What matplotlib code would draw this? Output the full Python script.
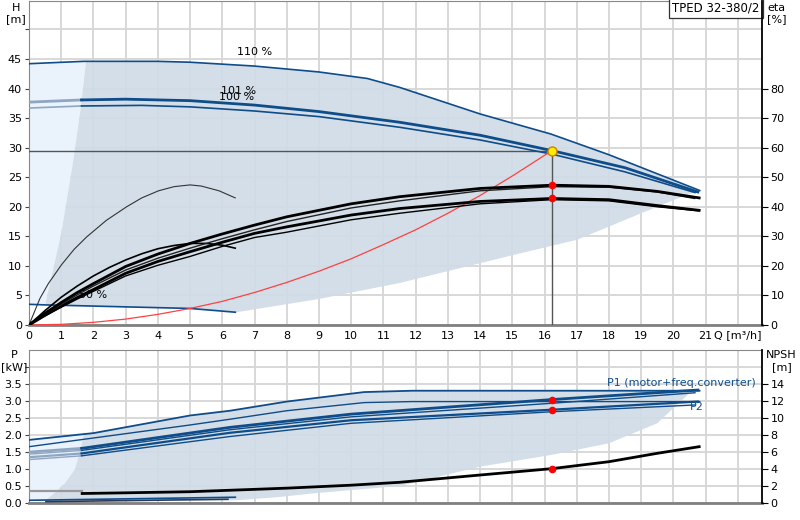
import numpy as np
import matplotlib
matplotlib.use("Agg")
import matplotlib.pyplot as plt

# ---------------- data ----------------
# head curves H [m] vs Q [m3/h]
q_110 = [0, 1.7, 4.0, 5.0, 7.0, 9.0, 10.5, 11.5, 14.0, 16.2, 18.0, 20.84]
h_110 = [44.2, 44.6, 44.6, 44.45, 43.8, 42.8, 41.7, 40.2, 35.7, 32.3, 28.8, 22.7]
q_101 = [0, 1.63, 3.0, 5.0, 7.0, 9.0, 11.5, 14.0, 16.23, 18.5, 20.76]
h_101 = [37.7, 38.07, 38.2, 37.95, 37.2, 36.1, 34.3, 32.1, 29.5, 26.6, 22.5]
q_100 = [0, 1.63, 3.5, 5.0, 7.0, 9.0, 11.5, 14.0, 16.23, 18.5, 20.67]
h_100 = [36.7, 37.05, 37.15, 36.9, 36.2, 35.25, 33.45, 31.3, 28.9, 25.9, 22.4]
q_50 = [0, 0.5, 5.0, 6.43]
h_50 = [3.5, 3.4, 2.8, 2.15]

# system curve
q_sys = [0, 1, 2, 3, 4, 5, 6, 7, 8, 9, 10, 11, 12, 13, 14, 15, 16.23]
h_sys = [0, 0.11, 0.45, 1.0, 1.8, 2.8, 4.0, 5.5, 7.2, 9.1, 11.2, 13.6, 16.1, 18.9, 21.9, 25.2, 29.5]

# operating point
q_op, h_op = 16.23, 29.5
eta_op = [47.3, 42.8]
p_op = [3.05, 2.75]
npsh_op = 4.05

# efficiency curves eta [%]
q_eta = [0, 0.5, 1, 1.5, 2, 3, 4, 5, 6, 7, 8, 10, 11.5, 14, 16.23, 18, 19.5, 20.8]
eta_101 = [0, 4.0, 7.6, 11.0, 14.0, 19.8, 24.0, 27.6, 30.8, 33.8, 36.6, 41.0, 43.4, 46.2, 47.3, 46.9, 45.2, 43.0]
eta_100 = [0, 3.7, 7.0, 10.2, 13.2, 18.6, 22.6, 26.0, 29.2, 32.2, 35.0, 39.6, 42.0, 45.4, 46.8, 46.6, 45.0, 42.8]
eta_p2_101 = [0, 3.3, 6.4, 9.3, 12.0, 17.5, 21.5, 24.8, 28.0, 31.0, 33.2, 37.2, 39.4, 41.8, 42.8, 42.4, 40.4, 38.8]
eta_p2_100 = [0, 3.1, 6.0, 8.8, 11.4, 16.6, 20.2, 23.2, 26.6, 29.6, 31.4, 35.6, 37.8, 41.0, 42.4, 42.0, 40.0, 38.6]
q_eta50 = [0, 0.34, 0.6, 1.01, 1.4, 1.79, 2.4, 3.03, 3.5, 4.02, 4.5, 5.0, 5.35, 5.9, 6.4]
eta_50_hi = [0, 9.0, 14.0, 20.4, 25.6, 29.8, 35.4, 40.0, 43.0, 45.4, 46.8, 47.4, 47.0, 45.4, 43.0]
q_eta50b = [0, 0.5, 1, 1.5, 2, 2.5, 3, 3.5, 4, 4.5, 5, 5.5, 6.0, 6.4]
eta_50_lo = [0, 4.9, 9.4, 13.2, 16.6, 19.5, 22.0, 24.1, 25.8, 26.9, 27.6, 27.6, 27.0, 26.0]

# operating range (shaded) in head chart
q_rng_left = [0.5, 1.0, 1.35, 1.6, 1.77]
h_rng_left = [3.4, 15.5, 27.0, 36.5, 44.6]
q_rng_low = [20.4, 19.0, 17.0, 15.0, 11.5, 9.0, 6.43]
h_rng_low = [22.0, 18.9, 14.4, 11.8, 7.1, 4.4, 2.15]

# power curves P [kW]
q_p1_110 = [0, 2, 5, 6.24, 8, 10.4, 11.9, 20.84]
p1_110 = [1.86, 2.06, 2.58, 2.72, 2.99, 3.27, 3.31, 3.31]
q_p2_110 = [0, 5, 6.24, 8, 10.4, 11.9, 20.84]
p2_110 = [1.66, 2.30, 2.47, 2.72, 2.96, 2.99, 2.99]
q_p1_101 = [0, 1.63, 6.24, 10, 16.23, 20.76]
p1_101 = [1.50, 1.61, 2.23, 2.62, 3.05, 3.33]
q_p1_100 = [0, 1.63, 6.24, 10, 16.23, 20.67]
p1_100 = [1.44, 1.55, 2.16, 2.54, 2.94, 3.25]
q_p2_101 = [0, 1.63, 6.24, 10, 16.23, 20.76]
p2_101 = [1.35, 1.46, 2.07, 2.44, 2.75, 2.99]
q_p2_100 = [0, 1.63, 6.24, 10, 16.23, 20.67]
p2_100 = [1.28, 1.39, 1.96, 2.35, 2.69, 2.89]
q_p_50 = [0, 6.43]
p1_50 = [0.08, 0.17]
q_p2_50 = [0.5, 6.2]
p2_50 = [0.04, 0.11]

# NPSH [m]
q_npsh_start = [0, 1.65]
npsh_start = [1.4, 1.4]
q_npsh = [1.65, 3, 5, 8, 10, 11.5, 14, 16.23, 18, 19.5, 20.8]
npsh = [1.12, 1.2, 1.33, 1.75, 2.1, 2.44, 3.3, 4.05, 4.87, 5.86, 6.64]

# operating range (shaded) in power chart
q_prng_left = [0.5, 0.8, 1.12, 1.43, 1.6, 1.72]
p_prng_left = [0.07, 0.3, 0.59, 1.0, 1.6, 2.07]
q_prng_low = [20.6, 20.5, 19.5, 18.0, 16.23, 14.0, 11.5, 9.0, 7.7, 6.43]
p_prng_low = [3.3, 3.24, 2.35, 1.76, 1.42, 1.07, 0.5, 0.3, 0.17, 0.08]

eta_ticks = list(range(0, 90, 10))
p_ticks = [0.0, 0.5, 1.0, 1.5, 2.0, 2.5, 3.0, 3.5]
npsh_ticks = list(range(0, 16, 2))

# ---------------- style ----------------
BLUE = "#0f4c8a"
PALE = "#8ea6c2"
SHADE = "#d0dce7"
LIGHT = "#eaf2fb"
GRID = "#d6d6d6"
XMAX = 22.75


def line(ax, q, y, color=BLUE, lw=1.2, split=None, z=4):
    q = np.asarray(q)
    y = np.asarray(y)
    if split is None:
        ax.plot(q, y, color=color, lw=lw, zorder=z, solid_capstyle="butt")
        return
    i = int(np.argmax(q >= split))
    ax.plot(q[:i + 1], y[:i + 1], color=PALE, lw=lw, zorder=z)
    ax.plot(q[i:], y[i:], color=color, lw=lw, zorder=z)


def base(ax, ymax, yticks):
    ax.set_xlim(0, XMAX)
    ax.set_ylim(0, ymax)
    ax.set_xticks(range(0, 23))
    ax.set_yticks(yticks)
    ax.set_axisbelow(True)
    ax.grid(True, color=GRID, lw=1.3)
    for s in ["left", "top"]:
        ax.spines[s].set_color("#888888")
    ax.spines["bottom"].set_color("#808080")
    ax.spines["bottom"].set_linewidth(2)
    ax.spines["right"].set_visible(False)
    ax.tick_params(axis="both", labelsize=8, length=3, color="#444444", pad=2)


fig = plt.figure(figsize=(8, 5.2), dpi=100)
ax = fig.add_axes([0.03625, 0.375, 0.91625, 0.623])
axp = fig.add_axes([0.03625, 0.0327, 0.91625, 0.2942])

# ---------------- head chart ----------------
base(ax, 54.8, list(range(0, 55, 5)))
ax.set_yticklabels([str(t) if t < 50 else "" for t in range(0, 55, 5)])
ax.set_xticklabels([str(i) for i in range(22)] + ["Q [m³/h]"])
ax.tick_params(axis="x", length=0, pad=4)

light_q = [0] + [1.7] + q_rng_left[::-1] + [0]
light_h = [44.2] + [44.6] + h_rng_left[::-1] + [3.5]
ax.fill(light_q, light_h, color=LIGHT, lw=0, zorder=1)
top_q = [q for q in q_110 if q >= 1.7]
top_h = [h for q, h in zip(q_110, h_110) if q >= 1.7]
dark_q = top_q + q_rng_low + q_50[::-1][:-1] + q_rng_left
dark_h = top_h + h_rng_low + h_50[::-1][:-1] + h_rng_left
ax.fill(dark_q, dark_h, color=SHADE, lw=0, zorder=1, alpha=0.92)

line(ax, q_110, h_110, lw=1.2)
line(ax, q_101, h_101, lw=2.0, split=1.6)
line(ax, q_100, h_100, lw=1.2, split=1.6)
line(ax, q_50, h_50, lw=1.2)
ax.plot(q_sys, h_sys, color="#ff4040", lw=0.9, zorder=5)
ax.plot([0, q_op], [h_op, h_op], color="#555555", lw=1.0, zorder=3)
ax.plot([q_op, q_op], [h_op, 0], color="#555555", lw=1.0, zorder=3)

ax.text(7.0, 46.2, "110 %", fontsize=8, ha="center", va="center", zorder=6)
ax.text(6.5, 39.5, "101 %", fontsize=8, ha="center", va="center", zorder=6)
ax.text(6.45, 38.6, "100 %", fontsize=8, ha="center", va="center", zorder=6)
ax.text(2.0, 5.0, "50 %", fontsize=8, ha="center", va="center", zorder=6)

ax.text(0.997, 0.998, "TPED 32-380/2", transform=ax.transAxes, ha="right", va="top",
        fontsize=8.5, zorder=10,
        bbox=dict(boxstyle="square,pad=0.3", fc="white", ec="#333333", lw=0.9))

ax_eta = ax.twinx()
ax_eta.set_ylim(0, 109.6)
ax_eta.set_yticks(eta_ticks)
for s in ["left", "top", "bottom"]:
    ax_eta.spines[s].set_visible(False)
ax_eta.spines["right"].set_color("black")
ax_eta.spines["right"].set_linewidth(1.3)
ax_eta.tick_params(axis="y", labelsize=8, length=4, pad=2)

ax_eta.plot(q_eta50, eta_50_hi, color="#333333", lw=0.8, zorder=4)
ax_eta.plot(q_eta50b, eta_50_lo, color="black", lw=1.2, zorder=4)
ax_eta.plot(q_eta, eta_p2_100, color="black", lw=1.0, zorder=4)
ax_eta.plot(q_eta, eta_p2_101, color="black", lw=2.0, zorder=4)
ax_eta.plot(q_eta[:-1] + [20.66], eta_100, color="#222222", lw=1.0, zorder=4)
ax_eta.plot(q_eta, eta_101, color="black", lw=2.0, zorder=4)
ax_eta.scatter([q_op, q_op], eta_op, s=30, color="red", zorder=7, lw=0)
ax_eta.scatter([q_op], [h_op * 2], s=42, color="#ffee00", edgecolor="#d08000", lw=1.0, zorder=8)

# ---------------- power chart ----------------
base(axp, 4.51, [0.0, 0.5, 1.0, 1.5, 2.0, 2.5, 3.0, 3.5, 4.0])
axp.set_yticklabels([f"{t:.1f}" for t in p_ticks] + [""])
axp.set_xticklabels([])
axp.tick_params(axis="x", length=0)

plight_q = [0, 1.72] + q_prng_left[::-1] + [0]
plight_p = [1.86, 2.07] + p_prng_left[::-1] + [0.08]
axp.fill(plight_q, plight_p, color=LIGHT, lw=0, zorder=1)
ptop_q = [q for q in q_p1_110 if q >= 1.72]
ptop_p = [p for q, p in zip(q_p1_110, p1_110) if q >= 1.72]
pdark_q = [1.72] + ptop_q + q_prng_low + q_prng_left
pdark_p = [2.07] + ptop_p + p_prng_low + p_prng_left
axp.fill(pdark_q, pdark_p, color=SHADE, lw=0, zorder=1, alpha=0.92)

line(axp, q_p1_110, p1_110, lw=1.3)
line(axp, q_p2_110, p2_110, lw=1.0)
line(axp, q_p1_101, p1_101, lw=2.0, split=1.6)
line(axp, q_p1_100, p1_100, lw=1.0, split=1.6)
line(axp, q_p2_101, p2_101, lw=1.6, split=1.6)
line(axp, q_p2_100, p2_100, lw=1.0, split=1.6)
line(axp, q_p_50, p1_50, lw=1.2)
line(axp, q_p2_50, p2_50, color="#2a3a5a", lw=1.2)
axp.scatter([q_op, q_op], p_op, s=30, color="red", zorder=7, lw=0)

axp.text(22.55, 3.55, "P1 (motor+freq.converter)", fontsize=8, color=BLUE,
         ha="right", va="center", zorder=6)
axp.text(20.95, 2.84, "P2", fontsize=8, color=BLUE, ha="right", va="center", zorder=6)

ax_n = axp.twinx()
ax_n.set_ylim(0, 18.04)
ax_n.set_yticks(npsh_ticks)
for s in ["left", "top", "bottom"]:
    ax_n.spines[s].set_visible(False)
ax_n.spines["right"].set_color("black")
ax_n.spines["right"].set_linewidth(1.3)
ax_n.tick_params(axis="y", labelsize=8, length=4, pad=2)
ax_n.plot(q_npsh_start, npsh_start, color="#999999", lw=1.6, zorder=4)
ax_n.plot(q_npsh, npsh, color="black", lw=2.0, zorder=4)
ax_n.scatter([q_op], [npsh_op], s=30, color="red", zorder=7, lw=0)

# axis titles
fig.text(16 / 800, 1 - 8 / 520, "H", fontsize=8, ha="center", va="center")
fig.text(16 / 800, 1 - 19 / 520, "[m]", fontsize=8, ha="center", va="center")
fig.text(767 / 800, 1 - 8 / 520, "eta", fontsize=8, ha="left", va="center")
fig.text(767 / 800, 1 - 19 / 520, "[%]", fontsize=8, ha="left", va="center")
fig.text(14 / 800, 1 - 355 / 520, "P", fontsize=8, ha="center", va="center")
fig.text(14 / 800, 1 - 367 / 520, "[kW]", fontsize=8, ha="center", va="center")
fig.text(766 / 800, 1 - 355 / 520, "NPSH", fontsize=8, ha="left", va="center")
fig.text(772 / 800, 1 - 367 / 520, "[m]", fontsize=8, ha="left", va="center")

fig.savefig("out.png", dpi=100)
